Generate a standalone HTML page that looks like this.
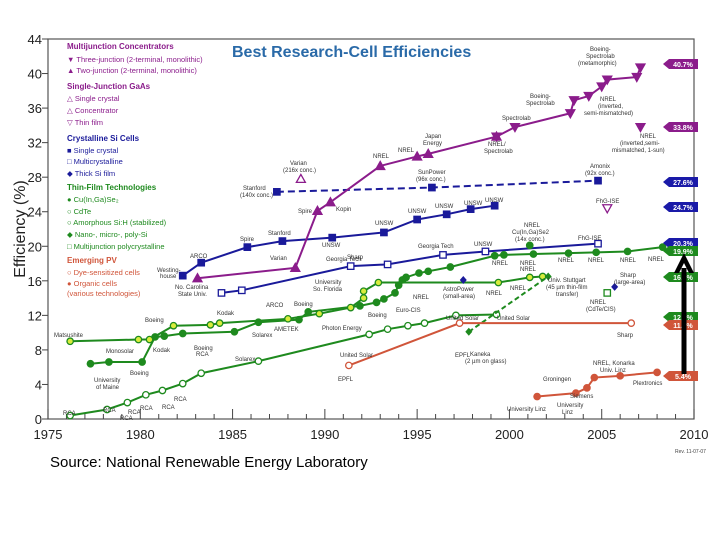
<!DOCTYPE html>
<html><head><meta charset="utf-8">
<style>
html,body{margin:0;padding:0;background:#fff;}
body{width:720px;height:540px;overflow:hidden;position:relative;font-family:"Liberation Sans",Arial,sans-serif;}
#src{position:absolute;left:50px;top:454px;font-size:15px;color:#000;}
</style></head>
<body>
<svg id="chart" width="720" height="540" style="position:absolute;left:0;top:0" font-family="Liberation Sans, Arial, sans-serif"></svg>
<div id="src">Source: National Renewable Energy Laboratory</div>
<script>
// ---- data ----
const yTicks=[0,4,8,12,16,20,24,28,32,36,40,44];
const xTicks=[1975,1980,1985,1990,1995,2000,2005,2010];
const tjYears=[1999.3,2000.3,2003.3,2003.5,2004.3,2005.0,2005.3,2006.9,2007.1];
const tjVals=[32.7,33.8,35.4,36.9,37.4,38.5,39.3,39.6,40.7];
const twoYears=[1983.1,1988.4,1989.6,1990.3,1993.0,1995.0,1995.6,1999.3];
const twoVals=[16.3,17.5,24.1,25.1,29.3,30.4,30.7,32.7];
const siConcYears=[1987.4,1995.8,2004.8];
const siConcVals=[26.3,26.8,27.6];
const siYears=[1982.3,1983.3,1985.8,1987.7,1990.4,1993.2,1995.0,1996.6,1997.9,1999.2];
const siVals=[16.6,18.1,19.9,20.6,21.0,21.6,23.1,23.7,24.3,24.7];
const mcYears=[1984.4,1985.5,1991.4,1993.4,1996.4,1998.7,2004.8];
const mcVals=[14.6,14.9,17.7,17.9,19.0,19.4,20.3];
const cigsYears=[1977.3,1978.3,1980.1,1980.8,1981.3,1982.3,1985.1,1986.4,1988.6,1989.1,1991.9,1992.8,1993.2,1993.8,1994.0,1994.2,1994.4,1995.1,1995.6,1996.8,1999.2,1999.7,2001.3,2003.2,2004.7,2006.4,2008.3];
const cigsVals=[6.4,6.6,6.6,9.5,9.6,9.9,10.1,11.2,11.5,12.4,13.1,13.5,13.9,14.6,15.5,16.1,16.4,16.9,17.1,17.6,18.9,19.0,19.1,19.2,19.3,19.4,19.9];
const cdteYears=[1976.2,1979.9,1980.5,1981.8,1983.8,1984.3,1988.0,1989.7,1991.4,1992.1,1992.1,1992.9,1999.4,2001.1,2001.8];
const cdteVals=[9.0,9.2,9.2,10.8,10.9,11.1,11.6,12.2,12.9,14.0,14.8,15.8,15.8,16.4,16.5];
const asiYears=[1976.2,1978.2,1979.3,1980.3,1981.2,1982.3,1983.3,1986.4,1992.4,1993.4,1994.5,1995.4,1997.1,1999.3];
const asiVals=[0.4,1.1,1.9,2.8,3.3,4.1,5.3,6.7,9.8,10.4,10.8,11.1,12.0,12.1];
const dyeYears=[1991.3,1997.3,2006.6];
const dyeVals=[6.2,11.1,11.1];
const nanoYears=[1997.8,2002.1];
const nanoVals=[10.1,16.5];
const orgYears=[2001.5,2003.6,2004.2,2004.6,2006.0,2008.0];
const orgVals=[2.6,3.0,3.6,4.8,5.0,5.4];
const singles=[
 {name:'gaas-conc-varian',yr:1988.7,v:27.8,m:'tri-up-open',c:'#8b1c8b'},
 {name:'gaas-thin-fhg',yr:2005.3,v:24.4,m:'tri-down-open',c:'#8b1c8b'},
 {name:'tj-nrel-1sun',yr:2007.1,v:33.8,m:'tri-down',c:'#8b1c8b'},
 {name:'cigs-conc-nrel',yr:2001.1,v:20.1,m:'circle',c:'#1e8a1e'},
 {name:'thick-si-astropower',yr:1997.5,v:16.1,m:'diamond',c:'#1a1a9a'},
 {name:'thick-si-sharp',yr:2005.7,v:15.3,m:'diamond',c:'#1a1a9a'},
 {name:'multijunction-poly-nrel',yr:2005.3,v:14.6,m:'square-open',c:'#1e8a1e'}
];
const tagVals=['40.7%','33.8%','27.6%','24.7%','20.3%','19.9%','16.5%','12.1%','11.1%','5.4%'];
const tagColors=['#8b1c8b','#8b1c8b','#1a1aa8','#1a1aa8','#1a1aa8','#1e8a1e','#1e8a1e','#1e8a1e','#d0553a','#d0553a'];
const tagY=[64,127,182,207,243,251,277,317,325,376];
// ---- axes ----
const X0=48,X1=694,Y0=419,Y1=39;
const x=yr=>X0+(yr-1975)*(X1-X0)/35;
const y=v=>Y0-v*(Y0-Y1)/44;
const NS='http://www.w3.org/2000/svg';
const svg=document.getElementById('chart');
function mk(tag,at,parent){const e=document.createElementNS(NS,tag);for(const k in at)e.setAttribute(k,at[k]);(parent||svg).appendChild(e);return e;}
function txt(s,at,parent){const e=mk('text',at,parent);e.textContent=s;return e;}

const frame=mk('rect',{x:X0,y:Y1,width:X1-X0,height:Y0-Y1,fill:'none',stroke:'#555','stroke-width':1.2});


for(const t of yTicks){
  const l=mk('line',{x1:X0-6,x2:X0,y1:y(t),y2:y(t),stroke:'#444'});
  
  
  const e=txt(String(t),{x:X0-6,y:y(t)+5,'text-anchor':'end','font-size':13,fill:'#222'});
  
  
}
for(let yr=1975;yr<=2010;yr++){
  const big=yr%5===0;
  const l=mk('line',{x1:x(yr),x2:x(yr),y1:Y0,y2:Y0-(big?10:5),stroke:'#444'});
  
  
}
for(const t of xTicks){
  const e=txt(String(t),{x:x(t),y:Y0+20,'text-anchor':'middle','font-size':13,fill:'#222'});
  
  
}
const yt=txt('Efficiency (%)',{x:0,y:0,transform:'translate(25,229) rotate(-90)','text-anchor':'middle','font-size':16,fill:'#222'});


const rev=txt('Rev. 11-07-07',{x:675,y:453,'font-size':5,fill:'#444'});


const title=txt('Best Research-Cell Efficiencies',{x:232,y:57,'font-size':16,'font-weight':'bold',fill:'#2a6aa8'});



function marker(g,cx,cy,m,c,fill){
  const s=3.2;
  if(m==='circle'||m==='circle-open'){mk('circle',{cx,cy,r:s,fill:m==='circle'?c:(fill||'#fff'),stroke:c,'stroke-width':1.3},g);}
  else if(m.startsWith('square')){mk('rect',{x:cx-s,y:cy-s,width:2*s,height:2*s,fill:m==='square'?c:'#fff',stroke:c,'stroke-width':1.3},g);}
  else if(m==='diamond'){mk('polygon',{points:`${cx},${cy-4} ${cx+3.5},${cy} ${cx},${cy+4} ${cx-3.5},${cy}`,fill:c},g);}
  else if(m.startsWith('tri-up')){mk('polygon',{points:`${cx},${cy-4.5} ${cx+4.5},${cy+3.5} ${cx-4.5},${cy+3.5}`,fill:m==='tri-up'?c:'#fff',stroke:c,'stroke-width':1.3},g);}
  else {mk('polygon',{points:`${cx-4.5},${cy-3.5} ${cx+4.5},${cy-3.5} ${cx},${cy+4.5}`,fill:m==='tri-down'?c:'#fff',stroke:c,'stroke-width':1.3},g);}
}
function series(name,yrs,vals,c,m,opts){
  opts=opts||{};
  const g=mk('g',{});
  
  
  const pts=yrs.map((yr,i)=>x(yr)+','+y(vals[i])).join(' ');
  const pl=mk('polyline',{points:pts,fill:'none',stroke:c,'stroke-width':opts.w||2,'stroke-dasharray':opts.dash||'none'},g);
  yrs.forEach((yr,i)=>marker(g,x(yr),y(vals[i]),m,c,opts.fill));
}
series('series-si-concentrator',siConcYears,siConcVals,'#1a1a9a','square',{dash:'7,4'});
series('series-si-single-crystal',siYears,siVals,'#1a1a9a','square');
series('series-si-multicrystalline',mcYears,mcVals,'#1a1a9a','square-open');
series('series-two-junction',twoYears,twoVals,'#8b1c8b','tri-up');
series('series-three-junction',tjYears,tjVals,'#8b1c8b','tri-down');
series('series-amorphous-si',asiYears,asiVals,'#1e8a1e','circle-open');
series('series-cigs',cigsYears,cigsVals,'#1e8a1e','circle');
series('series-cdte',cdteYears,cdteVals,'#1e8a1e','circle-open',{fill:'#d8ec3c'});
series('series-nano-si',nanoYears,nanoVals,'#1e8a1e','diamond',{dash:'5,3'});
series('series-dye-sensitized',dyeYears,dyeVals,'#d0553a','circle-open');
series('series-organic',orgYears,orgVals,'#d0553a','circle');
for(const s of singles){
  const g=mk('g',{});
  
  
  marker(g,x(s.yr),y(s.v),s.m,s.c);
}
// right-side tags
tagVals.forEach((t,i)=>{
  const g=mk('g',{});
  
  
  const yy=tagY[i];
  mk('polygon',{points:`663,${yy} 669,${yy-5} 698,${yy-5} 698,${yy+5} 669,${yy+5}`,fill:tagColors[i]},g);
  txt(t,{x:683,y:yy+3,'text-anchor':'middle','font-size':7,'font-weight':'bold',fill:'#fff'},g);
});
// arrow
const ar=mk('g',{});


mk('rect',{x:681.5,y:268,width:5,height:106,fill:'#000'},ar);
mk('polygon',{points:'684,253 694,273 689,273 684,263 679,273 674,273',fill:'#000'},ar);
// legend
const legend=[
 ['Multijunction Concentrators',200,52,'#8b1c8b',true],
 ['▼ Three-junction (2-terminal, monolithic)',200,65,'#8b1c8b'],
 ['▲ Two-junction (2-terminal, monolithic)',200,76,'#8b1c8b'],
 ['Single-Junction GaAs',200,92,'#8b1c8b',true],
 ['△ Single crystal',200,104,'#8b1c8b'],
 ['△ Concentrator',200,116,'#8b1c8b'],
 ['▽ Thin film',200,128,'#8b1c8b'],
 ['Crystalline Si Cells',200,144,'#1a1a9a',true],
 ['■ Single crystal',200,156,'#1a1a9a'],
 ['□ Multicrystalline',200,167,'#1a1a9a'],
 ['◆ Thick Si film',200,179,'#1a1a9a'],
 ['Thin-Film Technologies',200,193,'#1e8a1e',true],
 ['● Cu(In,Ga)Se₂',200,205,'#1e8a1e'],
 ['○ CdTe',200,217,'#1e8a1e'],
 ['○ Amorphous Si:H (stabilized)',200,228,'#1e8a1e'],
 ['◆ Nano-, micro-, poly-Si',200,240,'#1e8a1e'],
 ['□ Multijunction polycrystalline',200,252,'#1e8a1e'],
 ['Emerging PV',200,266,'#d0553a',true],
 ['○ Dye-sensitized cells',200,278,'#d0553a'],
 ['● Organic cells',200,289,'#d0553a'],
 ['(various technologies)',206,299,'#d0553a']
];
const lg=mk('g',{});


for(const [t,lx,ly,c,b] of legend){
  const e=txt(t,{x:lx/3*3-134,y:ly-20+36*0,'font-size':b?8:7.5,'font-weight':b?'bold':'normal',fill:c},lg);
  e.setAttribute('x',67);e.setAttribute('y',ly-3);
  
  
}
// annotations (positions are layout, not data)
const notes=[
 ['Varian',290,165],['(216x conc.)',283,172],['Stanford',243,190],['(140x conc.)',240,197],['Spire',298,213],['Kopin',336,211],
 ['NREL',373,158],['NREL',398,152],['Japan',425,138],['Energy',423,145],['NREL/',488,146],['Spectrolab',484,153],['Spectrolab',502,120],
 ['Boeing-',530,98],['Spectrolab',526,105],['NREL',600,101],['(inverted,',598,108],['semi-mismatched)',584,115],
 ['Boeing-',590,51],['Spectrolab',586,58],['(metamorphic)',578,65],['NREL',640,138],['(inverted,semi-',620,145],['mismatched, 1-sun)',612,152],
 ['SunPower',418,174],['(96x conc.)',416,181],['Amonix',590,168],['(92x conc.)',585,175],['FhG-ISE',596,203],
 ['UNSW',375,225],['UNSW',408,213],['UNSW',435,208],['UNSW',464,205],['UNSW',485,202],['UNSW',322,247],['Stanford',268,235],['Spire',240,241],['ARCO',190,258],
 ['Westing-',157,272],['house',160,278],['Varian',270,260],['No. Carolina',175,289],['State Univ.',178,296],['Georgia Tech',326,261],['Sharp',347,259],['Georgia Tech',418,248],['UNSW',474,246],
 ['NREL',524,227],['Cu(In,Ga)Se2',512,234],['(14x conc.)',515,241],['FhG-ISE',578,240],
 ['NREL',492,265],['NREL',520,265],['NREL',558,262],['NREL',588,262],['NREL',620,262],['NREL',648,261],['NREL',520,271],
 ['Univ. Stuttgart',548,282],['(45 µm thin-film',546,289],['transfer)',556,296],['Sharp',620,277],['(large-area)',614,284],['NREL',590,304],['(CdTe/CIS)',586,311],
 ['AstroPower',443,291],['(small-area)',443,298],['NREL',486,295],['NREL',510,290],['NREL',413,299],['Euro-CIS',396,312],['Boeing',368,317],['United Solar',446,320],['United Solar',497,320],
 ['University',315,284],['So. Florida',313,291],['Photon Energy',322,330],['AMETEK',274,331],['ARCO',266,307],['Boeing',294,306],['Kodak',217,315],['Boeing',145,322],['Boeing',194,350],
 ['Matsushite',54,337],['Monosolar',106,353],['Kodak',153,352],['Solarex',235,361],['Solarex',252,337],['EPFL',338,381],['EPFL',455,357],['Kaneka',470,356],['(2 µm on glass)',465,363],['United Solar',340,357],
 ['University',94,382],['of Maine',96,389],['Boeing',130,375],['RCA',196,356],['RCA',174,401],['RCA',162,409],['RCA',140,410],['RCA',128,414],['RCA',103,412],['RCA',120,420],['RCA',63,415],
 ['Sharp',617,337],['NREL, Konarka',593,365],['Univ. Linz',600,372],['Groningen',543,381],['Siemens',570,398],['Plextronics',633,385],['University Linz',507,411],['University',557,407],['Linz',562,414]
];
const ng=mk('g',{});


for(const [t,nx,ny] of notes){
  const e=txt(t,{x:nx,y:ny,'font-size':6,fill:'#333'},ng);
  
  
}
</script>
</body></html>
